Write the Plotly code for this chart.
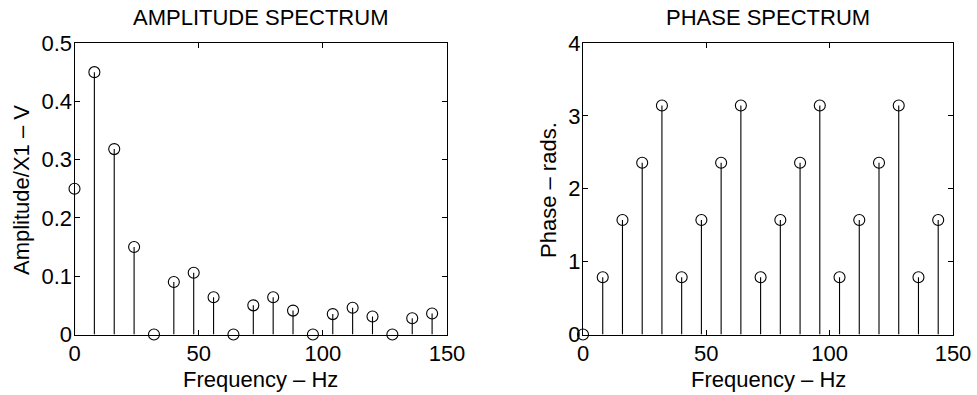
import plotly.graph_objects as go

# ---- data ----
freq_hz = [0, 8, 16, 24, 32, 40, 48, 56, 64, 72, 80, 88, 96, 104, 112, 120, 128, 136, 144]
amplitude = [0.25, 0.450, 0.318, 0.150, 0.0, 0.090, 0.106, 0.064, 0.0, 0.050,
             0.064, 0.041, 0.0, 0.035, 0.046, 0.031, 0.0, 0.028, 0.036]
phase = [0.0, 0.785, 1.571, 2.356, 3.142, 0.785, 1.571, 2.356, 3.142, 0.785,
         1.571, 2.356, 3.142, 0.785, 1.571, 2.356, 3.142, 0.785, 1.571]

x_ticks = [0, 50, 100, 150]
amp_ticks = [0, 0.1, 0.2, 0.3, 0.4, 0.5]
amp_ticktext = ["0", "0.1", "0.2", "0.3", "0.4", "0.5"]
phase_ticks = [0, 1, 2, 3, 4]

titles = ["AMPLITUDE SPECTRUM", "PHASE SPECTRUM"]
x_title = "Frequency – Hz"
y_titles = ["Amplitude/X1 – V", "Phase – rads."]

FONT = "Liberation Sans, Arial, Helvetica, sans-serif"
FS_TICK = 22
FS_TEXT = 22

W, H = 977, 395


def px_x(p):
    return p / W


def px_y(p):
    return 1 - p / H


fig = go.Figure()


def stem(x, y, xa, ya):
    return go.Scatter(
        x=x, y=y, xaxis=xa, yaxis=ya, mode="markers",
        marker=dict(symbol="circle-open", size=11, color="black",
                    line=dict(width=1.1, color="black")),
        error_y=dict(type="data", symmetric=False, array=[0] * len(y),
                     arrayminus=y, width=0, thickness=1.1, color="black"),
        cliponaxis=False, showlegend=False, hoverinfo="x+y",
    )


fig.add_trace(stem(freq_hz, amplitude, "x", "y"))
fig.add_trace(stem(freq_hz, phase, "x2", "y2"))

ydom = [px_y(334.5), px_y(43)]

axis_common = dict(
    showline=True, linecolor="black", linewidth=1, mirror="allticks",
    ticks="inside", ticklen=5, tickwidth=1, tickcolor="black",
    showgrid=False, zeroline=False, automargin=False,
    tickfont=dict(family=FONT, size=FS_TICK, color="black"),
)
xa = dict(ticklabelstandoff=-1, **axis_common)
ya = dict(ticklabelstandoff=-3, **axis_common)

fig.update_layout(
    width=W, height=H,
    margin=dict(l=0, r=0, t=0, b=0, pad=0, autoexpand=False),
    paper_bgcolor="white", plot_bgcolor="white",
    font=dict(family=FONT, size=FS_TEXT, color="black"),
    xaxis=dict(domain=[px_x(74.5), px_x(447)], range=[0, 150], tickvals=x_ticks,
               anchor="y", **xa),
    yaxis=dict(domain=ydom, range=[0, 0.5], tickvals=amp_ticks,
               ticktext=amp_ticktext, anchor="x", **ya),
    xaxis2=dict(domain=[px_x(583), px_x(953)], range=[0, 150], tickvals=x_ticks,
                anchor="y2", **xa),
    yaxis2=dict(domain=ydom, range=[0, 4], tickvals=phase_ticks,
                anchor="x2", **ya),
)

# titles and axis labels as annotations for exact placement
centers = [px_x((74.5 + 447) / 2), px_x((583 + 953) / 2)]
ylab_x = [px_x(21), px_x(548)]
for i in range(2):
    fig.add_annotation(text=titles[i], x=centers[i], y=px_y(17.5), xref="paper",
                       yref="paper", showarrow=False, xanchor="center",
                       yanchor="middle", font=dict(family=FONT, size=FS_TEXT))
    fig.add_annotation(text=x_title, x=centers[i], y=px_y(379), xref="paper",
                       yref="paper", showarrow=False, xanchor="center",
                       yanchor="middle", font=dict(family=FONT, size=FS_TEXT))
    fig.add_annotation(text=y_titles[i], x=ylab_x[i], y=px_y(190), xref="paper",
                       yref="paper", showarrow=False, xanchor="center",
                       yanchor="middle", textangle=-90,
                       font=dict(family=FONT, size=FS_TEXT))

fig.write_html("out.html", config={"displayModeBar": False},
               post_script="document.body.style.margin='0';")
